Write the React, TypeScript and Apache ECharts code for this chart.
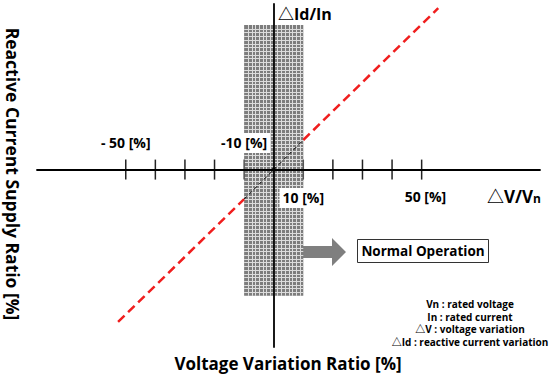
import React, { useEffect, useRef } from "react";
import * as echarts from "echarts";

// ---- data ----
const X_RANGE = [-80, 90];
const Y_RANGE = [-60, 56];
const TICK_VALUES = [-50, -40, -30, -20, -10, 10, 20, 30, 40, 50];
const BAND_X = [-10, 10];
const BAND_Y = [-42.7, 48.9];
const RED_LOWER = [[-52.6, -51.5], [-10, -10]];
const BLACK_MID = [[-10, -10], [10, 10]];
const RED_UPPER = [[10, 10], [55.6, 54.6]];
const TICK_LABELS = [
  { x: -50, y: 9, text: "- 50 [%]" },
  { x: -10, y: 9, text: "-10 [%]" },
  { x: 10, y: -9.6, text: "10 [%]" },
  { x: 51.3, y: -9, text: "50 [%]" },
];
const NOTES = [
  "Vn : rated voltage",
  "In : rated current",
  "△V : voltage variation",
  "△Id : reactive current variation",
];

const FONT = "'Open Sans', 'Noto Sans CJK KR', 'DejaVu Sans', sans-serif";

export default function App() {
  const ref = useRef<HTMLDivElement>(null);
  useEffect(() => {
    if (!ref.current) return;
    const chart = echarts.init(ref.current, null, { renderer: "svg" });
    const option: any = {
      animation: false,
      grid: { left: 37, right: 10, top: 4, bottom: 32 },
      xAxis: {
        type: "value",
        min: X_RANGE[0],
        max: X_RANGE[1],
        z: 10,
        axisLine: { onZero: true, lineStyle: { color: "#000", width: 1.8 } },
        axisTick: { show: false },
        axisLabel: { show: false },
        splitLine: { show: false },
      },
      yAxis: {
        type: "value",
        min: Y_RANGE[0],
        max: Y_RANGE[1],
        z: 10,
        axisLine: { onZero: true, lineStyle: { color: "#000", width: 1.8 } },
        axisTick: { show: false },
        axisLabel: { show: false },
        splitLine: { show: false },
      },
      series: [
        {
          type: "custom",
          z: 1,
          data: [[0, 0]],
          renderItem: (_p: any, api: any) => {
            const p0 = api.coord([BAND_X[0], BAND_Y[1]]);
            const p1 = api.coord([BAND_X[1], BAND_Y[0]]);
            const x0 = p0[0], y0 = p0[1];
            const w = p1[0] - p0[0], h = p1[1] - p0[1];
            const cols = 16;
            const cw = w / cols;
            const rows = Math.round(h / cw);
            const rh = h / rows;
            const children: any[] = [
              { type: "rect", shape: { x: x0, y: y0, width: w, height: h }, style: { fill: "#7d7d7d" } },
            ];
            for (let i = 1; i < cols; i++) {
              const x = Math.round(x0 + i * cw) + 0.5;
              children.push({ type: "line", shape: { x1: x, y1: y0, x2: x, y2: y0 + h }, style: { stroke: "#dcdcdc", lineWidth: 1 } });
            }
            for (let j = 1; j < rows; j++) {
              const y = Math.round(y0 + j * rh) + 0.5;
              children.push({ type: "line", shape: { x1: x0, y1: y, x2: x0 + w, y2: y }, style: { stroke: "#dcdcdc", lineWidth: 1 } });
            }
            return { type: "group", children };
          },
        },
        {
          type: "custom",
          z: 3,
          data: TICK_VALUES.map((v) => [v, 0]),
          renderItem: (_p: any, api: any) => {
            const v = api.value(0);
            const c = api.coord([v, 0]);
            const edge = v === BAND_X[0] || v === BAND_X[1];
            return {
              type: "line",
              shape: { x1: c[0], y1: c[1] - 10, x2: c[0], y2: c[1] + 10 },
              style: { stroke: edge ? "#555" : "#222", lineWidth: 1.5 },
            };
          },
        },
        {
          type: "line",
          z: 4,
          data: RED_LOWER,
          symbol: "none",
          lineStyle: { color: "#f01e1e", width: 2.5, type: [9, 5] },
        },
        {
          type: "line",
          z: 4,
          data: RED_UPPER,
          symbol: "none",
          lineStyle: { color: "#f01e1e", width: 2.5, type: [9, 5] },
        },
        {
          type: "line",
          z: 4,
          data: BLACK_MID,
          symbol: "none",
          lineStyle: { color: "#000", width: 1, type: [4, 3] },
        },
        {
          type: "scatter",
          z: 12,
          data: [[0, 0]],
          symbolSize: 4,
          itemStyle: { color: "#000" },
        },
        {
          type: "custom",
          z: 11,
          data: TICK_LABELS.map((d) => [d.x, d.y]),
          renderItem: (p: any, api: any) => {
            const c = api.coord([api.value(0), api.value(1)]);
            return {
              type: "text",
              x: c[0],
              y: c[1],
              style: {
                text: TICK_LABELS[p.dataIndex].text,
                font: `bold 14px ${FONT}`,
                fill: "#000",
                align: "center",
                verticalAlign: "middle",
                backgroundColor: "#fff",
                padding: [3, 3],
              },
            };
          },
        },
      ],
      graphic: [
        {
          type: "text",
          x: 278,
          y: 14,
          style: { text: "△Id/In", font: `bold 16px ${FONT}`, fill: "#000", verticalAlign: "middle" },
        },
        {
          type: "text",
          x: 487,
          y: 196,
          style: {
            text: "△V/V{s|n}",
            font: `bold 17px ${FONT}`,
            fill: "#000",
            verticalAlign: "middle",
            rich: { s: { font: `bold 12px ${FONT}`, fill: "#000", padding: [5, 0, 0, 0] } },
          },
        },
        {
          type: "polygon",
          shape: { points: [[303, 246], [332, 246], [332, 238], [346, 252], [332, 266], [332, 258], [303, 258]] },
          style: { fill: "#7f7f7f" },
        },
        {
          type: "rect",
          shape: { x: 357.5, y: 239.5, width: 131, height: 23 },
          style: { fill: "#fff", stroke: "#333", lineWidth: 1 },
        },
        {
          type: "text",
          x: 423,
          y: 251,
          style: { text: "Normal Operation", font: `bold 13.5px ${FONT}`, fill: "#000", align: "center", verticalAlign: "middle" },
        },
        ...NOTES.map((t, i) => ({
          type: "text",
          x: 470,
          y: 304 + i * 12.6,
          style: { text: t, font: `bold 10px ${FONT}`, fill: "#000", align: "center", verticalAlign: "middle" },
        })),
        {
          type: "text",
          x: 288,
          y: 363,
          style: { text: "Voltage Variation Ratio [%]", font: `bold 17px ${FONT}`, fill: "#000", align: "center", verticalAlign: "middle" },
        },
        {
          type: "text",
          x: 13,
          y: 174,
          rotation: -Math.PI / 2,
          style: { text: "Reactive Current Supply Ratio [%]", font: `bold 17.5px ${FONT}`, fill: "#000", align: "center", verticalAlign: "middle" },
        },
      ],
    };
    chart.setOption(option);
    return () => chart.dispose();
  }, []);
  return <div ref={ref} style={{ width: 550, height: 379, position: "absolute", left: 0, top: 0 }} />;
}
